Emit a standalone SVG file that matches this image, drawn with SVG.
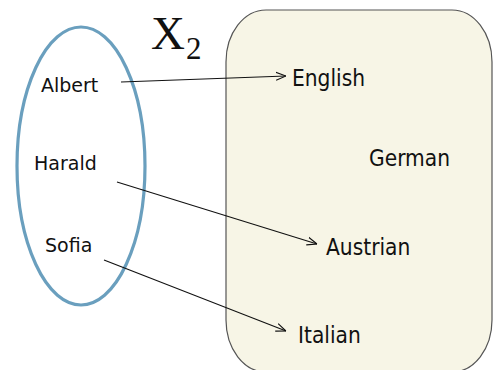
<svg xmlns="http://www.w3.org/2000/svg" width="493" height="370" viewBox="0 0 493 370">
<style>
.lbl{font-family:"DejaVu Sans","Liberation Sans",sans-serif;fill:#111;}
.l{font-size:19px;}
.r{font-size:22.5px;font-family:"DejaVu Sans Condensed","DejaVu Sans",sans-serif;}
.conn{stroke:#111;stroke-width:1.1;fill:none;marker-end:url(#ah);}
</style>
<defs>
<marker id="ah" viewBox="0 0 10 10" refX="10" refY="5" markerWidth="10" markerHeight="10" markerUnits="userSpaceOnUse" orient="auto">
<path d="M0,1 L10,5 L0,9" fill="none" stroke="#111" stroke-width="1.1"/>
</marker>
</defs>
<rect width="493" height="370" fill="#fff"/>
<g id="setY">
<rect x="226" y="10" width="266" height="362" rx="40" ry="52" fill="#f7f5e6" stroke="#555" stroke-width="1.2"/>
<text class="lbl r" x="292" y="86">English</text>
<text class="lbl r" x="369" y="166">German</text>
<text class="lbl r" x="326" y="255">Austrian</text>
<text class="lbl r" x="298" y="343">Italian</text>
</g>
<g id="setX">
<ellipse cx="81" cy="166" rx="64" ry="139" fill="none" stroke="#6a9fbe" stroke-width="3.2"/>
<text class="lbl l" x="41" y="92">Albert</text>
<text class="lbl l" x="34" y="170">Harald</text>
<text class="lbl l" x="45" y="252">Sofia</text>
</g>
<g id="title">
<text x="151" y="49" font-family="Liberation Serif,serif" font-size="47" fill="#111">X</text>
<text x="186" y="59" font-family="Liberation Serif,serif" font-size="31" fill="#111">2</text>
</g>
<g id="connectors">
<line class="conn" x1="121" y1="82" x2="286" y2="76"/>
<line class="conn" x1="117" y1="182" x2="317" y2="244"/>
<line class="conn" x1="104" y1="260" x2="286" y2="331"/>
</g>
</svg>
